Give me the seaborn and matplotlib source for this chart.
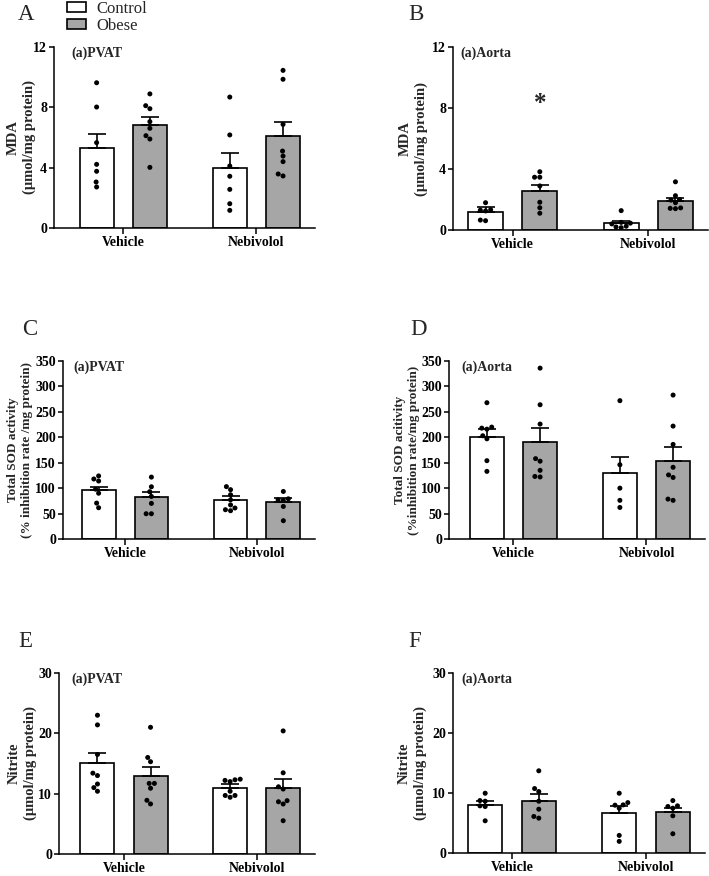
import pandas as pd
import matplotlib
matplotlib.use('Agg')
from matplotlib import pyplot as plt
from matplotlib.patches import Patch
import seaborn as sns

groups = ['Vehicle', 'Nebivolol']
hues = ['Control', 'Obese']
cells = [('Vehicle', 'Control'), ('Vehicle', 'Obese'), ('Nebivolol', 'Control'), ('Nebivolol', 'Obese')]

# individual points, order: vehicle control, vehicle obese, nebivolol control, nebivolol obese
mda_pvat_pts = [[9.63, 8.02, 5.66, 4.22, 3.76, 3.05, 2.72],
                [8.89, 8.11, 7.91, 7.05, 6.61, 6.12, 5.9, 4.02],
                [8.68, 6.17, 4.11, 3.43, 2.56, 1.61, 1.17],
                [10.45, 9.86, 6.87, 5.1, 4.77, 4.4, 3.58, 3.45]]
mda_pvat_mean = [5.3, 6.85, 3.95, 6.08]
mda_pvat_sem = [0.95, 0.51, 1.02, 0.95]

mda_aorta_pts = [[1.79, 1.33, 1.3, 1.25, 0.65, 0.61],
                 [3.82, 3.46, 3.46, 2.89, 1.82, 1.46, 1.10],
                 [1.27, 0.5, 0.45, 0.4, 0.25, 0.2, 0.15],
                 [3.16, 2.25, 2.0, 1.96, 1.79, 1.45, 1.42, 1.4]]
mda_aorta_mean = [1.16, 2.56, 0.44, 1.9]
mda_aorta_sem = [0.32, 0.42, 0.17, 0.22]

sod_pvat_pts = [[124, 118, 114, 98, 90, 70.6, 61.5],
                [121.7, 102.7, 93, 83.7, 70, 49.7, 49.7],
                [103, 97, 87, 77, 67, 61, 57.6, 55.6],
                [93.5, 79, 77, 76, 64, 36]]
sod_pvat_mean = [96.8, 82.4, 76.5, 72.6]
sod_pvat_sem = [6.2, 10.6, 7.2, 7.9]

sod_aorta_pts = [[268, 220, 218, 216, 203, 197, 154, 133],
                 [336, 264, 226, 158, 153, 135, 123, 122],
                 [272, 146, 100, 76, 62],
                 [283, 222, 186, 141, 126, 121, 78.5, 76]]
sod_aorta_mean = [200, 190, 130, 154]
sod_aorta_sem = [16, 28, 32, 26]

no2_pvat_pts = [[23.0, 21.4, 16.5, 13.4, 13.0, 11.6, 11.0, 10.4],
                [21.0, 16.0, 15.3, 11.7, 11.7, 10.9, 8.9, 8.3],
                [12.4, 12.3, 12.2, 12.0, 10.4, 9.7, 9.7, 9.4],
                [20.4, 13.46, 11.14, 10.77, 8.84, 8.66, 8.29, 5.52]]
no2_pvat_mean = [15.1, 12.9, 11.0, 10.9]
no2_pvat_sem = [1.7, 1.5, 0.6, 1.5]

no2_aorta_pts = [[9.96, 8.74, 8.63, 7.86, 7.75, 5.37],
                 [13.7, 10.74, 10.24, 8.63, 7.3, 6.09, 5.81],
                 [9.96, 8.4, 8.02, 7.97, 7.47, 2.93, 1.94],
                 [8.74, 7.86, 7.75, 7.47, 6.2, 3.21]]
no2_aorta_mean = [8.08, 8.69, 6.75, 6.86]
no2_aorta_sem = [0.66, 1.16, 1.11, 0.61]

mda_ticks = [0, 4, 8, 12]
sod_ticks = [0, 50, 100, 150, 200, 250, 300, 350]
no2_ticks = [0, 10, 20, 30]

sns.set_style('ticks')
plt.rcParams['font.family'] = ['Liberation Serif', 'DejaVu Serif']
plt.rcParams['font.weight'] = 'bold'
plt.rcParams['axes.labelweight'] = 'bold'
plt.rcParams['axes.linewidth'] = 1.1
plt.rcParams['xtick.major.width'] = 1.1
plt.rcParams['ytick.major.width'] = 1.1
plt.rcParams['xtick.major.size'] = 4
plt.rcParams['ytick.major.size'] = 3.5
plt.rcParams['xtick.color'] = 'black'
plt.rcParams['ytick.color'] = 'black'

W, H = 709, 876
fig = plt.figure(figsize=(W / 100, H / 100), dpi=100)

# letter, pts, mean, sem, ticks, inner label, ylabel, ylabel size, rect px (l, t, r, b),
# xlim left, ylabel x, inner x
panels = [
    ('A', mda_pvat_pts, mda_pvat_mean, mda_pvat_sem, mda_ticks, '(a)PVAT',
     'MDA\n(\u03bcmol/mg protein)', 10.5, (54, 47, 315, 228), -0.52, -0.07, 0.065),
    ('B', mda_aorta_pts, mda_aorta_mean, mda_aorta_sem, mda_ticks, '(a)Aorta',
     'MDA\n(\u03bcmol/mg protein)', 10.5, (453, 47, 708, 230), -0.44, -0.10, 0.03),
    ('C', sod_pvat_pts, sod_pvat_mean, sod_pvat_sem, sod_ticks, '(a)PVAT',
     'Total SOD activity\n(% inhibition rate /mg protein)', 9.5, (63, 361, 315, 539), -0.47, -0.12, 0.04),
    ('D', sod_aorta_pts, sod_aorta_mean, sod_aorta_sem, sod_ticks, '(a)Aorta',
     'Total SOD acitivity\n(%inhibition rate/mg protein)', 9.5, (449, 361, 705, 539), -0.485, -0.112, 0.05),
    ('E', no2_pvat_pts, no2_pvat_mean, no2_pvat_sem, no2_ticks, '(a)PVAT',
     'Nitrite\n(\u03bcmol/mg protein)', 10.5, (59, 673, 315, 854), -0.49, -0.086, 0.05),
    ('F', no2_aorta_pts, no2_aorta_mean, no2_aorta_sem, no2_ticks, '(a)Aorta',
     'Nitrite\n(\u03bcmol/mg protein)', 10.5, (453, 673, 705, 853), -0.44, -0.103, 0.035),
]

bar_colors = {'Control': 'white', 'Obese': '#a6a6a6'}
fs_tick = 10

for letter, pts, means, sems, ticks, inner, ylab, fs_lab, rect, xl, lx, tx in panels:
    l, t, r, b = rect
    ax = fig.add_axes([l / W, 1 - b / H, (r - l) / W, (b - t) / H])

    bars = pd.DataFrame({'group': [c[0] for c in cells], 'hue': [c[1] for c in cells],
                         'value': means})
    rows = []
    for (g, h), vals in zip(cells, pts):
        for v in vals:
            rows.append({'group': g, 'hue': h, 'value': v})
    dots = pd.DataFrame(rows)

    sns.barplot(data=bars, x='group', y='value', hue='hue', order=groups, hue_order=hues,
                palette=bar_colors, edgecolor='black', linewidth=1.2, width=0.8, gap=0.36,
                errorbar=None, legend=False, ax=ax)
    conts = list(ax.containers)

    # upper-only SEM bars
    sem_lookup = {c: s for c, s in zip(cells, sems)}
    for hi, cont in enumerate(conts):
        for gi, patch in enumerate(cont.patches):
            xc = patch.get_x() + patch.get_width() / 2
            yv = patch.get_height()
            s = sem_lookup[(groups[gi], hues[hi])]
            ax.errorbar(xc, yv, yerr=[[0], [s]], fmt='none', ecolor='black',
                        elinewidth=1.2, capsize=6.5, capthick=1.2, zorder=3)

    sns.swarmplot(data=dots, x='group', y='value', hue='hue', order=groups, hue_order=hues,
                  dodge=True, palette=['black', 'black'], size=3.6, legend=False,
                  ax=ax, zorder=4)

    ax.set_xlim(xl, 1.44)
    ax.set_ylim(ticks[0], ticks[-1])
    ax.set_yticks(ticks)
    ax.set_yticklabels([str(v) for v in ticks], fontsize=fs_tick, fontweight='bold')
    ax.set_xticks([0, 1])
    ax.set_xticklabels(groups, fontsize=fs_tick, fontweight='bold')
    ax.tick_params(axis='both', pad=1.5)
    ax.set_xlabel('')
    ax.set_ylabel(ylab, fontsize=fs_lab, fontweight='bold', linespacing=1.25)
    ax.yaxis.set_label_coords(lx, 0.5)
    sns.despine(ax=ax)
    for sp in ax.spines.values():
        sp.set_color('black')
    ax.text(tx, 0.965, inner, transform=ax.transAxes, fontsize=fs_tick, fontweight='bold',
            ha='left', va='center')

    if letter == 'B':
        pB = conts[1].patches[0]
        ax.text(pB.get_x() + pB.get_width() / 2, 8.3, '*', fontsize=18, fontweight='bold',
                ha='center', va='center')

# panel letters
letter_pos = {'A': (18, 20), 'B': (408, 20), 'C': (22, 335), 'D': (410, 335),
              'E': (18, 647), 'F': (408, 647)}
for k, (x, y) in letter_pos.items():
    fig.text(x / W, 1 - y / H, k, fontsize=16.5, fontweight='normal', va='baseline', ha='left')

handles = [Patch(facecolor='white', edgecolor='black', linewidth=1.2),
           Patch(facecolor='#a6a6a6', edgecolor='black', linewidth=1.2)]
leg = fig.legend(handles, hues, loc='upper left', bbox_to_anchor=(67 / W, 1 - 1 / H),
                 frameon=False, prop={'size': 12, 'weight': 'normal'},
                 handlelength=1.15, handleheight=0.5, labelspacing=0.05,
                 handletextpad=0.6, borderpad=0, borderaxespad=0)

fig.savefig('out.png', dpi=100)
